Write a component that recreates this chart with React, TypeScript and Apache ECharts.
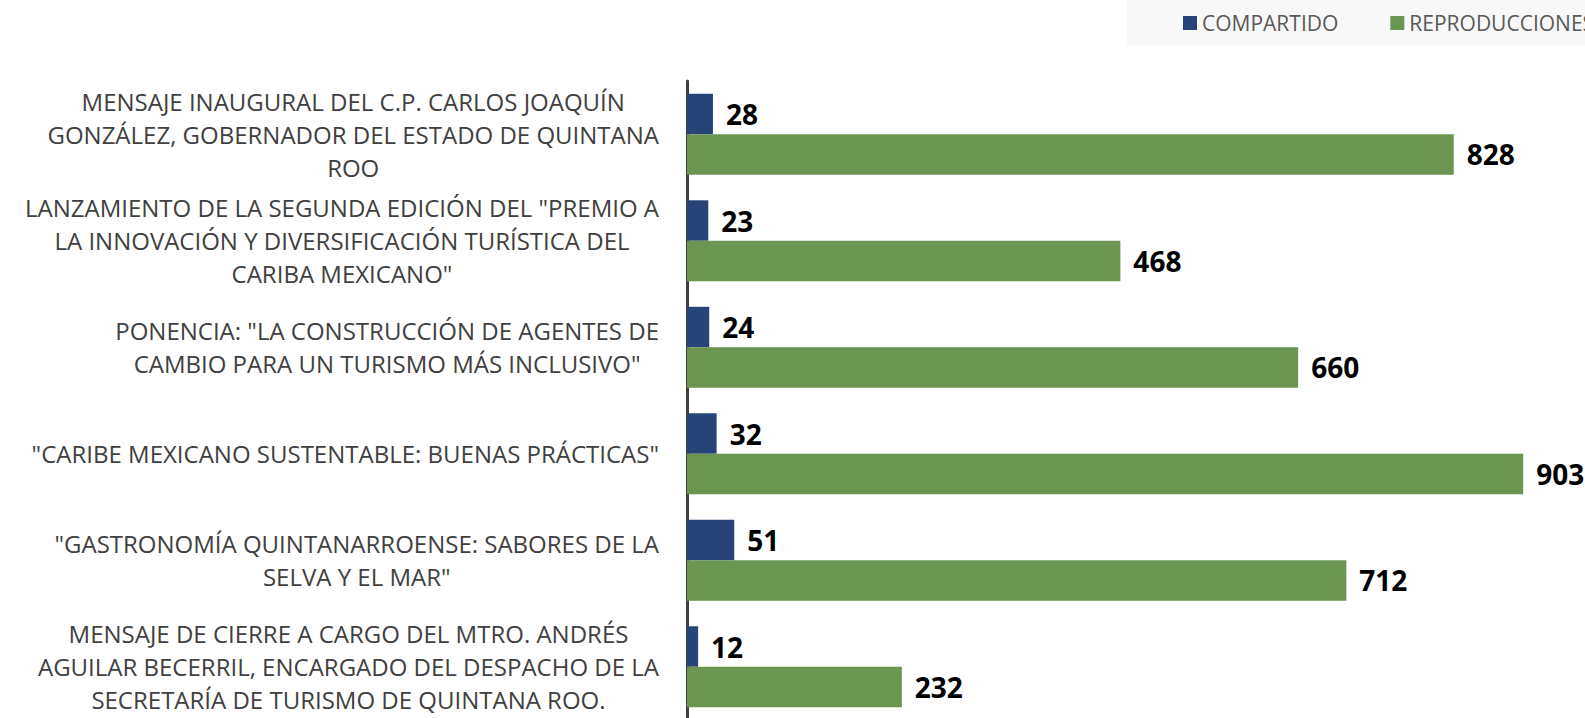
import React, { useEffect, useRef } from "react";
import * as echarts from "echarts";

const categories: string[] = [
  "MENSAJE INAUGURAL DEL C.P. CARLOS JOAQUÍN\nGONZÁLEZ, GOBERNADOR DEL ESTADO DE QUINTANA\nROO",
  "LANZAMIENTO DE LA SEGUNDA EDICIÓN DEL \"PREMIO A\nLA INNOVACIÓN Y DIVERSIFICACIÓN TURÍSTICA DEL\nCARIBA MEXICANO\"",
  "PONENCIA: \"LA CONSTRUCCIÓN DE AGENTES DE\nCAMBIO PARA UN TURISMO MÁS INCLUSIVO\"",
  "\"CARIBE MEXICANO SUSTENTABLE: BUENAS PRÁCTICAS\"",
  "\"GASTRONOMÍA QUINTANARROENSE: SABORES DE LA\nSELVA Y EL MAR\"",
  "MENSAJE DE CIERRE A CARGO DEL MTRO. ANDRÉS\nAGUILAR BECERRIL, ENCARGADO DEL DESPACHO DE LA\nSECRETARÍA DE TURISMO DE QUINTANA ROO.",
];

const compartido: number[] = [28, 23, 24, 32, 51, 12];
const reproducciones: number[] = [828, 468, 660, 903, 712, 232];

const seriesNames: string[] = ["COMPARTIDO", "REPRODUCCIONES"];

const FONT = "'Open Sans', 'Noto Sans', sans-serif";

export default function App() {
  const ref = useRef<HTMLDivElement>(null);

  useEffect(() => {
    if (!ref.current) return;
    const chart = echarts.init(ref.current, null, { renderer: "svg" });
    const valueLabel = {
      show: true,
      position: "right",
      distance: 13,
      color: "#000000",
      fontFamily: FONT,
      fontWeight: "bold",
      fontSize: 28,
    };
    chart.setOption({
      animation: false,
      backgroundColor: "#ffffff",
      graphic: [
        {
          type: "rect",
          left: 1127,
          top: 0,
          shape: { width: 520, height: 46 },
          style: { fill: "#F8F8F8" },
          z: -10,
        },
      ],
      legend: {
        left: 1183,
        top: 12,
        padding: 0,
        itemGap: 52,
        itemWidth: 14,
        itemHeight: 14,
        icon: "rect",
        data: seriesNames,
        textStyle: {
          fontFamily: FONT,
          fontSize: 21,
          lineHeight: 22,
          color: "#595959",
        },
      },
      grid: {
        left: 687,
        top: 81,
        width: 926,
        height: 639,
      },
      xAxis: {
        type: "value",
        min: 0,
        max: 1000,
        show: false,
        splitLine: { show: false },
      },
      yAxis: {
        type: "category",
        data: categories,
        inverse: true,
        axisTick: { show: false },
        axisLine: { show: true, lineStyle: { color: "#404040", width: 3 } },
        axisLabel: {
          margin: 28,
          align: "right",
          formatter: (v: string) =>
            v
              .split("\n")
              .map((l) => `{c|${l}}`)
              .join("\n"),
          rich: {
            c: {
              align: "center",
              fontFamily: FONT,
              fontSize: 24,
              lineHeight: 33,
              color: "#404040",
            },
          },
        },
      },
      series: [
        {
          name: seriesNames[0],
          type: "bar",
          data: compartido,
          barGap: "0%",
          barCategoryGap: "24%",
          itemStyle: { color: "#264478" },
          label: valueLabel,
        },
        {
          name: seriesNames[1],
          type: "bar",
          data: reproducciones,
          barGap: "0%",
          barCategoryGap: "24%",
          itemStyle: { color: "#6A9652" },
          label: valueLabel,
        },
      ],
    });
    return () => chart.dispose();
  }, []);

  return (
    <div
      style={{
        position: "fixed",
        left: 0,
        top: 0,
        width: 1585,
        height: 718,
        overflow: "hidden",
        background: "#ffffff",
      }}
    >
      <div ref={ref} style={{ width: 1660, height: 760 }} />
    </div>
  );
}
